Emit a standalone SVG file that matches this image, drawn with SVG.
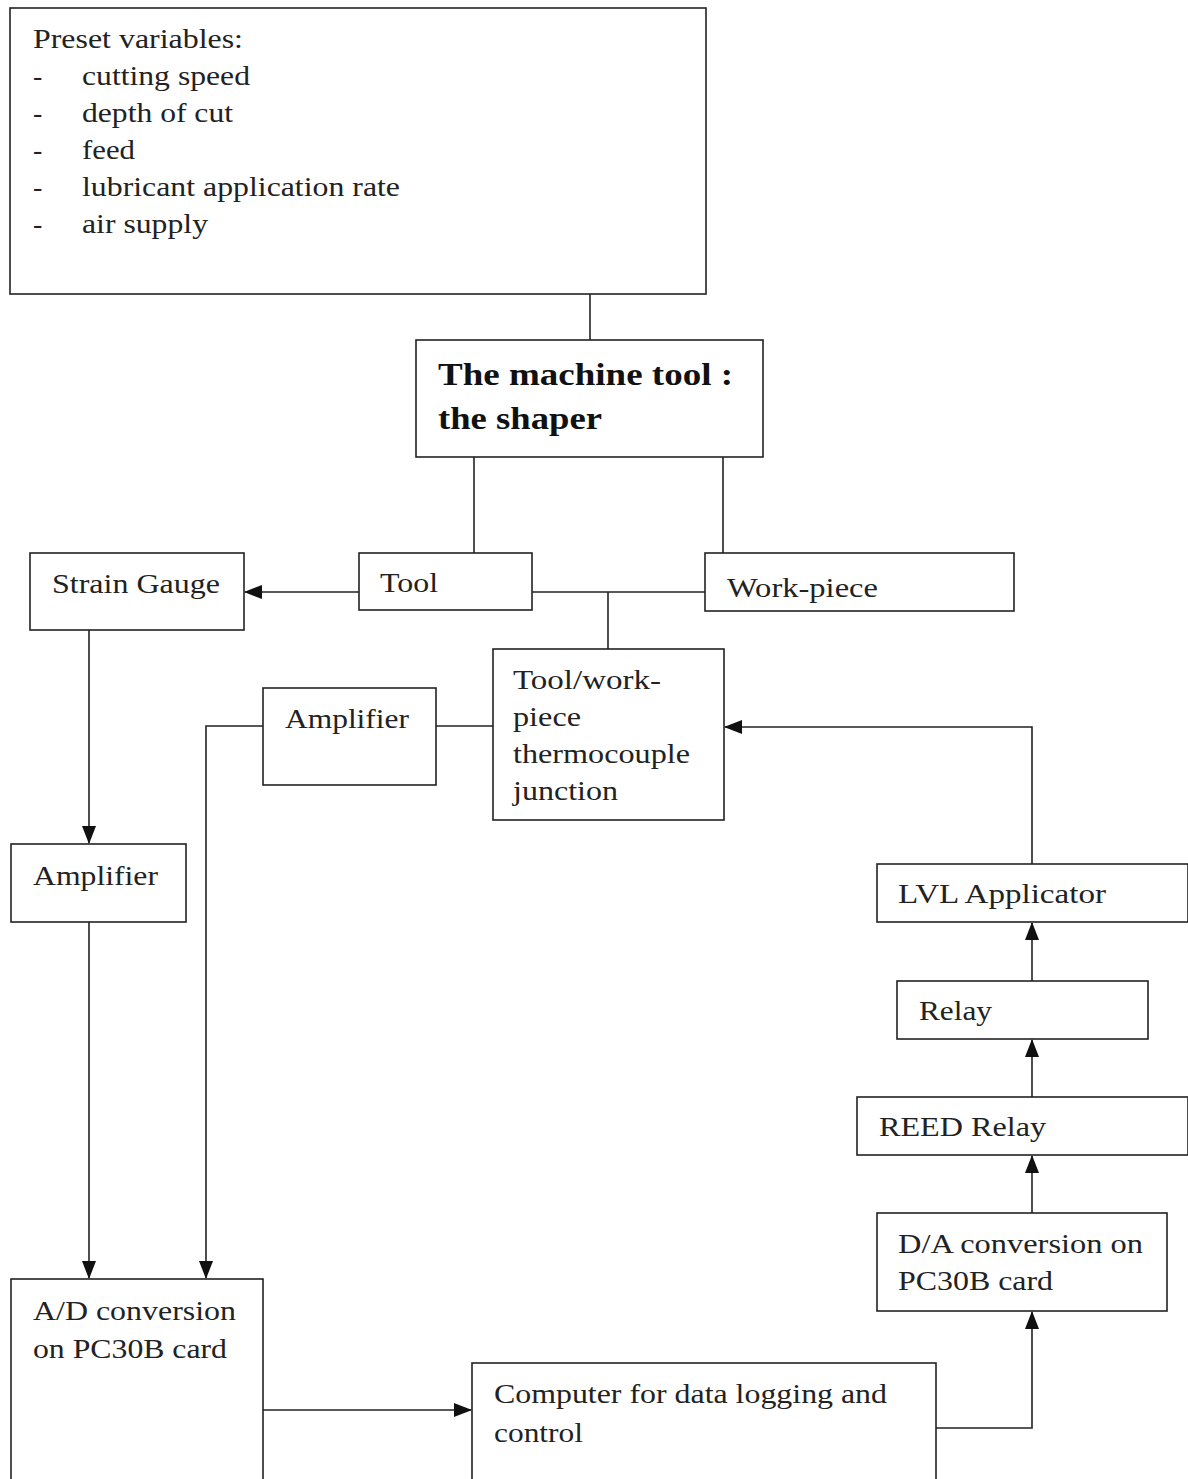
<svg xmlns="http://www.w3.org/2000/svg" width="1188" height="1479" viewBox="0 0 1188 1479">
<style>
.box{fill:#fff;stroke:#222;stroke-width:1.6}
.t{font-family:"Liberation Serif","Times New Roman",serif;font-size:28px;fill:#222}
.b{font-family:"Liberation Serif","Times New Roman",serif;font-size:31px;font-weight:bold;fill:#111}
.c{fill:none;stroke:#222;stroke-width:1.6}
</style>
<defs>
<marker id="ah" markerUnits="userSpaceOnUse" markerWidth="18" markerHeight="14" refX="17" refY="7" orient="auto">
<path d="M0,0 L18,7 L0,14 Z" fill="#111"/>
</marker>
</defs>
<rect width="1188" height="1479" fill="#fff"/>

<g id="connectors">
<line class="c" x1="590" y1="294" x2="590" y2="340"/>
<line class="c" x1="474" y1="457" x2="474" y2="553"/>
<line class="c" x1="723" y1="457" x2="723" y2="553"/>
<line class="c" x1="359" y1="592" x2="245" y2="592" marker-end="url(#ah)"/>
<line class="c" x1="532" y1="592" x2="705" y2="592"/>
<line class="c" x1="608" y1="592" x2="608" y2="649"/>
<line class="c" x1="89" y1="630" x2="89" y2="843" marker-end="url(#ah)"/>
<line class="c" x1="436" y1="726" x2="493" y2="726"/>
<polyline class="c" points="263,726 206,726 206,1278" marker-end="url(#ah)"/>
<line class="c" x1="89" y1="922" x2="89" y2="1278" marker-end="url(#ah)"/>
<line class="c" x1="263" y1="1410" x2="471" y2="1410" marker-end="url(#ah)"/>
<polyline class="c" points="936,1428 1032,1428 1032,1312" marker-end="url(#ah)"/>
<line class="c" x1="1032" y1="1213" x2="1032" y2="1156" marker-end="url(#ah)"/>
<line class="c" x1="1032" y1="1097" x2="1032" y2="1040" marker-end="url(#ah)"/>
<line class="c" x1="1032" y1="981" x2="1032" y2="923" marker-end="url(#ah)"/>
<polyline class="c" points="1032,864 1032,727 725,727" marker-end="url(#ah)"/>
</g>

<g id="preset">
<rect class="box" x="10" y="8" width="696" height="286"/>
<text class="t" x="33" y="48" textLength="210" lengthAdjust="spacingAndGlyphs">Preset variables:</text>
<text class="t" x="33" y="85">-</text>
<text class="t" x="82" y="85" textLength="168" lengthAdjust="spacingAndGlyphs">cutting speed</text>
<text class="t" x="33" y="122">-</text>
<text class="t" x="82" y="122" textLength="151" lengthAdjust="spacingAndGlyphs">depth of cut</text>
<text class="t" x="33" y="159">-</text>
<text class="t" x="82" y="159" textLength="53" lengthAdjust="spacingAndGlyphs">feed</text>
<text class="t" x="33" y="196">-</text>
<text class="t" x="82" y="196" textLength="318" lengthAdjust="spacingAndGlyphs">lubricant application rate</text>
<text class="t" x="33" y="233">-</text>
<text class="t" x="82" y="233" textLength="126" lengthAdjust="spacingAndGlyphs">air supply</text>
</g>

<g id="machine">
<rect class="box" x="416" y="340" width="347" height="117"/>
<text class="b" x="438" y="385" textLength="295" lengthAdjust="spacingAndGlyphs">The machine tool :</text>
<text class="b" x="438" y="429" textLength="164" lengthAdjust="spacingAndGlyphs">the shaper</text>
</g>

<g id="strain">
<rect class="box" x="30" y="553" width="214" height="77"/>
<text class="t" x="52" y="593" textLength="168" lengthAdjust="spacingAndGlyphs">Strain Gauge</text>
</g>

<g id="tool">
<rect class="box" x="359" y="553" width="173" height="57"/>
<text class="t" x="380" y="592" textLength="58" lengthAdjust="spacingAndGlyphs">Tool</text>
</g>

<g id="workpiece">
<rect class="box" x="705" y="553" width="309" height="58"/>
<text class="t" x="727" y="597" textLength="151" lengthAdjust="spacingAndGlyphs">Work-piece</text>
</g>

<g id="thermocouple">
<rect class="box" x="493" y="649" width="231" height="171"/>
<text class="t" x="513" y="689" textLength="148" lengthAdjust="spacingAndGlyphs">Tool/work-</text>
<text class="t" x="513" y="726" textLength="68" lengthAdjust="spacingAndGlyphs">piece</text>
<text class="t" x="513" y="763" textLength="177" lengthAdjust="spacingAndGlyphs">thermocouple</text>
<text class="t" x="513" y="800" textLength="105" lengthAdjust="spacingAndGlyphs">junction</text>
</g>

<g id="amp2">
<rect class="box" x="263" y="688" width="173" height="97"/>
<text class="t" x="285" y="728" textLength="124" lengthAdjust="spacingAndGlyphs">Amplifier</text>
</g>

<g id="amp1">
<rect class="box" x="11" y="844" width="175" height="78"/>
<text class="t" x="33" y="885" textLength="125" lengthAdjust="spacingAndGlyphs">Amplifier</text>
</g>

<g id="lvl">
<rect class="box" x="877" y="864" width="311" height="58"/>
<text class="t" x="898" y="903" textLength="208" lengthAdjust="spacingAndGlyphs">LVL Applicator</text>
</g>

<g id="relay">
<rect class="box" x="897" y="981" width="251" height="58"/>
<text class="t" x="919" y="1020" textLength="73" lengthAdjust="spacingAndGlyphs">Relay</text>
</g>

<g id="reed">
<rect class="box" x="857" y="1097" width="331" height="58"/>
<text class="t" x="879" y="1136" textLength="167" lengthAdjust="spacingAndGlyphs">REED Relay</text>
</g>

<g id="da">
<rect class="box" x="877" y="1213" width="290" height="98"/>
<text class="t" x="898" y="1253" textLength="245" lengthAdjust="spacingAndGlyphs">D/A conversion on</text>
<text class="t" x="898" y="1290" textLength="155" lengthAdjust="spacingAndGlyphs">PC30B card</text>
</g>

<g id="ad">
<rect class="box" x="11" y="1279" width="252" height="220"/>
<text class="t" x="33" y="1320" textLength="203" lengthAdjust="spacingAndGlyphs">A/D conversion</text>
<text class="t" x="33" y="1358" textLength="194" lengthAdjust="spacingAndGlyphs">on PC30B card</text>
</g>

<g id="computer">
<rect class="box" x="472" y="1363" width="464" height="136"/>
<text class="t" x="494" y="1403" textLength="393" lengthAdjust="spacingAndGlyphs">Computer for data logging and</text>
<text class="t" x="494" y="1442" textLength="89" lengthAdjust="spacingAndGlyphs">control</text>
</g>
</svg>
